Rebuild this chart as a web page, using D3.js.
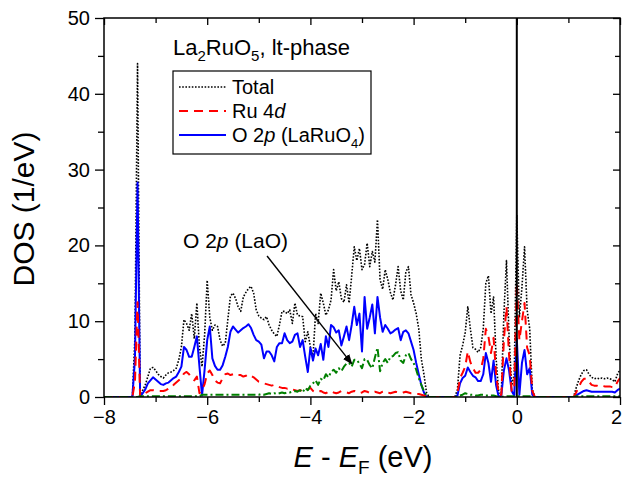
<!DOCTYPE html>
<html>
<head>
<meta charset="utf-8">
<script src="https://cdnjs.cloudflare.com/ajax/libs/d3/7.8.5/d3.min.js"></script>
<style>
    body { margin: 0; background: #fff; }
    svg { display: block; font-family: "Liberation Sans", Arial, sans-serif; }
</style>
</head>
<body>
<svg id="chart" width="624" height="477"></svg>
<script>
//Energy grid: -8 .. 2 eV, 0.05 eV step
var eStart = -8, eStep = 0.05;

//DOS values (1/eV), one per grid point
var total = [
    0, 0, 0, 0, 0, 0, 0, 0, 0, 0,
    0, 0, 8, 44, 0.3, 0.9, 1.6, 2.7, 3.8, 3.9,
    3.5, 3.0, 2.7, 2.5, 2.9, 3.2, 3.3, 3.5, 3.8, 4.9,
    6.6, 10.2, 9.7, 8.8, 11.0, 7.7, 12.4, 6.6, 4.0, 8.2,
    15.4, 10.5, 8.8, 9.5, 9.3, 7.5, 6.7, 7.1, 10.2, 13.3,
    13.7, 13.0, 11.9, 11.3, 13.2, 13.8, 14.3, 14.6, 13.7, 11.5,
    10.7, 10.4, 10.2, 10.6, 9.5, 8.8, 8.3, 8.0, 9.5, 11.3,
    11.3, 11.0, 11.5, 9.7, 12.4, 10.8, 10.7, 10.6, 7.3, 8.6,
    6.6, 5.3, 11.0, 9.7, 13.7, 12.4, 10.8, 11.5, 12.8, 16.8,
    14.0, 15.2, 13.0, 12.5, 14.8, 12.4, 16.0, 19.8, 18.0, 19.6,
    16.8, 17.5, 20.3, 17.2, 19.2, 17.8, 23.4, 15.5, 14.2, 16.8,
    15.5, 13.8, 12.8, 14.8, 17.2, 14.0, 12.8, 16.5, 17.2, 13.5,
    12.4, 11.0, 9.0, 5.0, 3.0, 0.6, 0, 0, 0, 0,
    0, 0, 0, 0, 0, 0, 0, 1.0, 5.5, 6.8,
    8.5, 11.9, 9.0, 6.5, 6.3, 5.9, 6.5, 9.0, 15.0, 16.0,
    11.0, 13.2, 5.0, 0.5, 0.5, 11.0, 18.0, 8.0, 1.5, 3.0,
    24.0, 10.5, 14.5, 19.8, 11.5, 9.0, 1.0, 0, 0, 0,
    0, 0, 0, 0, 0, 0, 0, 0, 0, 0,
    0, 0, 0, 1.2, 2.2, 3.0, 3.5, 3.6, 3.0, 2.6,
    2.4, 2.5, 2.4, 2.5, 2.4, 2.5, 2.4, 2.3, 2.0, 3.0,
    3.6
];
var ru4d = [
    0, 0, 0, 0, 0, 0, 0, 0, 0, 0,
    0, 0, 2, 12.5, 0, 0.3, 0.5, 0.7, 0.9, 0.9,
    0.8, 0.8, 0.8, 0.8, 0.9, 1.1, 1.2, 1.6, 1.9, 2.2,
    2.5, 3.1, 3.3, 3.0, 2.5, 2.2, 2.7, 0.5, 0.9, 1.7,
    3.1, 3.5, 2.9, 2.2, 1.9, 1.8, 2.5, 3.0, 3.1, 2.9,
    3.0, 3.1, 2.9, 2.9, 2.7, 2.8, 3.0, 2.8, 2.6, 2.3,
    2.0, 1.9, 1.8, 1.7, 1.6, 1.5, 1.6, 1.4, 1.3, 1.2,
    1.2, 1.1, 1.2, 1.0, 0.9, 0.8, 0.9, 0.8, 0.7, 1.0,
    1.2, 0.8, 0.6, 0.7, 0.8, 0.6, 0.5, 0.7, 0.8, 0.6,
    0.5, 0.6, 0.8, 0.7, 0.6, 0.5, 0.7, 0.8, 0.6, 0.5,
    0.6, 0.8, 0.7, 0.5, 0.6, 0.7, 0.6, 0.5, 0.7, 0.8,
    0.6, 0.5, 0.6, 0.7, 0.6, 0.5, 0.6, 0.7, 0.6, 0.5,
    0.5, 0.4, 0.4, 0.3, 0.2, 0.1, 0, 0, 0, 0,
    0, 0, 0, 0, 0, 0, 0, 0.5, 2.5, 3.2,
    4.0, 6.0, 4.6, 3.8, 3.2, 3.2, 3.6, 5.0, 9.0, 8.0,
    5.8, 7.8, 3.0, 0.3, 0.3, 7.5, 11.9, 5.5, 0.8, 1.0,
    15.0, 7.5, 10.0, 12.4, 6.5, 5.5, 0.8, 0, 0, 0,
    0, 0, 0, 0, 0, 0, 0, 0, 0, 0,
    0, 0, 0, 0.6, 1.3, 2.0, 2.4, 2.4, 2.0, 1.6,
    1.5, 1.5, 1.4, 1.5, 1.4, 1.4, 1.4, 1.3, 1.3, 2.0,
    2.5
];
var o2pLaRuO4 = [
    0, 0, 0, 0, 0, 0, 0, 0, 0, 0,
    0, 0, 5, 28.3, 0, 0.5, 1.0, 1.8, 2.2, 2.6,
    2.3, 2.0, 1.7, 1.6, 1.8, 1.9, 2.2, 2.5, 2.7, 3.3,
    4.0, 6.6, 6.2, 5.3, 5.3, 6.6, 8.0, 4.0, 0.2, 3.6,
    7.5, 9.3, 5.1, 4.1, 3.6, 3.6, 4.2, 5.3, 6.6, 8.6,
    9.3, 8.9, 8.5, 8.8, 9.1, 9.3, 9.6, 9.1, 8.2, 7.5,
    7.3, 6.9, 5.1, 6.0, 6.0, 5.5, 4.7, 6.6, 7.1, 7.1,
    8.4, 7.5, 7.1, 7.3, 8.2, 8.4, 6.6, 7.5, 5.3, 3.3,
    6.5, 4.8, 6.4, 5.5, 7.0, 4.9, 8.0, 6.6, 9.5, 9.2,
    8.5, 8.8, 6.8, 8.0, 9.3, 7.5, 9.5, 11.9, 9.5, 11.0,
    6.0, 13.2, 9.0, 10.5, 12.2, 8.4, 13.2, 10.5, 8.6, 9.5,
    9.0, 8.4, 8.6, 8.9, 9.1, 7.5, 8.6, 8.8, 8.4, 7.3,
    6.2, 4.5, 3.0, 1.6, 0.6, 0, 0, 0, 0, 0,
    0, 0, 0, 0, 0, 0, 0, 0.2, 1.8, 2.5,
    2.8, 3.9, 3.3, 2.8, 2.6, 2.1, 2.1, 3.0, 5.8, 4.5,
    2.0, 4.8, 1.5, 0, 0.2, 3.5, 5.1, 3.5, 0.8, 0.2,
    7.7, 0.3, 4.5, 6.2, 3.0, 3.8, 0.3, 0, 0, 0,
    0, 0, 0, 0, 0, 0, 0, 0, 0, 0,
    0, 0, 0, 0.2, 0.4, 0.6, 0.8, 0.9, 0.8, 0.7,
    0.7, 0.7, 0.7, 0.7, 0.7, 0.7, 0.7, 0.7, 0.6, 0.9,
    1.1
];
var o2pLaO = [
    0, 0, 0, 0, 0, 0, 0, 0, 0, 0,
    0, 0, 0, 0, 0.1, 0.1, 0.1, 0.1, 0.1, 0.1,
    0.1, 0.1, 0.1, 0.1, 0.1, 0.1, 0.1, 0.1, 0.1, 0.1,
    0.1, 0.1, 0.1, 0.1, 0.1, 0.1, 0.1, 0.1, 0.3, 0.3,
    0.3, 0.3, 0.3, 0.3, 0.3, 0.3, 0.3, 0.3, 0.3, 0.3,
    0.3, 0.3, 0.3, 0.3, 0.3, 0.3, 0.3, 0.3, 0.3, 0.3,
    0.3, 0.4, 0.3, 0.4, 0.5, 0.4, 0.5, 0.4, 0.5, 0.6,
    0.5, 0.6, 0.6, 0.7, 0.8, 0.7, 0.9, 0.6, 1.2, 0.9,
    1.5, 1.8, 2.2, 1.6, 2.4, 2.2, 3.0, 2.6, 3.3, 3.6,
    3.2, 3.8, 3.4, 4.0, 4.4, 4.5, 4.0, 4.9, 4.9, 4.4,
    3.8, 5.0, 4.9, 4.2, 3.8, 5.2, 6.5, 3.4, 4.5, 5.0,
    4.5, 5.3, 5.4, 5.8, 5.9, 4.8, 4.5, 5.5, 5.8, 5.0,
    4.5, 3.6, 2.5, 1.6, 0.8, 0.2, 0, 0, 0, 0,
    0, 0, 0, 0, 0, 0, 0, 0.1, 0.2, 0.3,
    0.5, 0.4, 0.3, 0.3, 0.2, 0.2, 0.3, 0.3, 0.2, 0.2,
    0.2, 0.2, 0.1, 0, 0, 0.1, 0.1, 0.1, 0.1, 0.1,
    0.1, 0.1, 0.1, 0.1, 0.1, 0.1, 0, 0, 0, 0,
    0, 0, 0, 0, 0, 0, 0, 0, 0, 0,
    0, 0, 0, 0.1, 0.1, 0.1, 0.1, 0.1, 0.1, 0.1,
    0.1, 0.1, 0.1, 0.1, 0.1, 0.1, 0.1, 0.1, 0.1, 0.1,
    0.1
];

//Axis ticks
var xMajor = [-8, -6, -4, -2, 0, 2];
var xMinor = [-7, -5, -3, -1, 1];
var yMajor = [0, 10, 20, 30, 40, 50];
var yMinor = [5, 15, 25, 35, 45];

//Legend entries
var legendNames = ["Total", "Ru 4", "O 2"];

var energy = total.map(function (d, i) { return +(eStart + i * eStep).toFixed(2) });

var svg = d3.select("#chart");

var x = d3.scaleLinear().domain([-8, 2]).range([104, 620]);
var y = d3.scaleLinear().domain([0, 50]).range([397, 18]);

svg.append("defs").append("clipPath").attr("id", "plot-clip")
    .append("rect").attr("x", 104).attr("y", 18).attr("width", 516).attr("height", 379);

//Curves
var series = [
    { values: total, color: "#000", width: 1.6, dash: "1.6,1.6" },
    { values: o2pLaRuO4, color: "#0000ff", width: 2, dash: null },
    { values: ru4d, color: "#ff0000", width: 2, dash: "9,6" },
    { values: o2pLaO, color: "#008000", width: 2, dash: "8,3,2,3" }
];
var line = d3.line()
    .x(function (d) { return x(d[0]) })
    .y(function (d) { return y(d[1]) });

var curves = svg.append("g").attr("clip-path", "url(#plot-clip)");
series.forEach(function (s) {
    curves.append("path")
        .datum(energy.map(function (e, i) { return [e, s.values[i]] }))
        .attr("d", line)
        .attr("fill", "none")
        .attr("stroke", s.color)
        .attr("stroke-width", s.width)
        .attr("stroke-dasharray", s.dash)
        .attr("stroke-linejoin", "round");
});

//Fermi level
svg.append("line")
    .attr("x1", x(0)).attr("x2", x(0))
    .attr("y1", y(50)).attr("y2", y(0))
    .attr("stroke", "#000").attr("stroke-width", 2);

//Axes
function styleAxis(g) {
    g.select(".domain").remove();
    g.selectAll("line").attr("stroke", "#000").attr("stroke-width", 1.3);
    g.selectAll("text").attr("fill", "#000").style("font-size", "20px")
        .style("font-family", "'Liberation Sans', Arial, sans-serif");
}
var xAxis = svg.append("g").attr("transform", "translate(0,397)")
    .call(d3.axisBottom(x).tickValues(xMajor).tickSize(8).tickPadding(5).tickFormat(d3.format("d")))
    .call(styleAxis);
//last label sits at the window edge
xAxis.selectAll("text").filter(function (d) { return d == 2 }).attr("x", -4);
svg.append("g").attr("transform", "translate(0,397)")
    .call(d3.axisBottom(x).tickValues(xMinor).tickSize(5).tickFormat(""))
    .call(styleAxis);
svg.append("g").attr("transform", "translate(104,0)")
    .call(d3.axisLeft(y).tickValues(yMajor).tickSize(9).tickPadding(5).tickFormat(d3.format("d")))
    .call(styleAxis);
svg.append("g").attr("transform", "translate(104,0)")
    .call(d3.axisLeft(y).tickValues(yMinor).tickSize(6).tickFormat(""))
    .call(styleAxis);
svg.append("g").attr("transform", "translate(0,18)")
    .call(d3.axisTop(x).tickValues(xMajor).tickSize(-7).tickFormat(""))
    .call(styleAxis);
svg.append("g").attr("transform", "translate(0,18)")
    .call(d3.axisTop(x).tickValues(xMinor).tickSize(-5).tickFormat(""))
    .call(styleAxis);
svg.append("g").attr("transform", "translate(620,0)")
    .call(d3.axisRight(y).tickValues(yMajor).tickSize(-7).tickFormat(""))
    .call(styleAxis);
svg.append("g").attr("transform", "translate(620,0)")
    .call(d3.axisRight(y).tickValues(yMinor).tickSize(-5).tickFormat(""))
    .call(styleAxis);

svg.append("rect")
    .attr("x", 104).attr("y", 18).attr("width", 516).attr("height", 379)
    .attr("fill", "none").attr("stroke", "#000").attr("stroke-width", 1.5);

//Axis titles
var xt = svg.append("text").attr("x", 363).attr("y", 467)
    .attr("text-anchor", "middle").style("font-size", "29px");
xt.append("tspan").style("font-style", "italic").text("E");
xt.append("tspan").text(" - ");
xt.append("tspan").style("font-style", "italic").text("E");
xt.append("tspan").attr("dy", 7).style("font-size", "19px").text("F");
xt.append("tspan").attr("dy", -7).text(" (eV)");

svg.append("text")
    .attr("transform", "translate(34,209) rotate(-90)")
    .attr("text-anchor", "middle").style("font-size", "30px")
    .text("DOS (1/eV)");

//Title
var tt = svg.append("text").attr("x", 173).attr("y", 55).style("font-size", "22px");
tt.append("tspan").text("La");
tt.append("tspan").attr("dy", 6).style("font-size", "15px").text("2");
tt.append("tspan").attr("dy", -6).text("RuO");
tt.append("tspan").attr("dy", 6).style("font-size", "15px").text("5");
tt.append("tspan").attr("dy", -6).text(", lt-phase");

//Legend
var lg = svg.append("g");
lg.append("rect").attr("x", 173).attr("y", 71).attr("width", 198).attr("height", 83)
    .attr("fill", "#fff").attr("stroke", "#000").attr("stroke-width", 1.2);
var rowY = [87, 111, 135];
var legendOrder = [0, 2, 1];
legendOrder.forEach(function (order, i) {
    var ss = series[order];
    lg.append("line")
        .attr("x1", 179).attr("x2", 226).attr("y1", rowY[i]).attr("y2", rowY[i])
        .attr("stroke", ss.color).attr("stroke-width", ss.width).attr("stroke-dasharray", ss.dash);
    var t = lg.append("text").attr("x", 232).attr("y", rowY[i] + 7).style("font-size", "20px");
    t.append("tspan").text(legendNames[i]);
    if (i == 1) t.append("tspan").style("font-style", "italic").text("d");
    if (i == 2) {
        t.append("tspan").style("font-style", "italic").text("p");
        t.append("tspan").text(" (LaRuO");
        t.append("tspan").attr("dy", 6).style("font-size", "13px").text("4");
        t.append("tspan").attr("dy", -6).text(")");
    }
});

//Annotation for O 2p (LaO)
svg.append("defs").append("marker").attr("id", "arrow")
    .attr("viewBox", "0 0 10 10").attr("refX", 9).attr("refY", 5)
    .attr("markerWidth", 10).attr("markerHeight", 10).attr("markerUnits", "userSpaceOnUse")
    .attr("orient", "auto")
    .append("path").attr("d", "M0,1 L10,5 L0,9 Z").attr("fill", "#000");
var an = svg.append("text").attr("x", 183).attr("y", 248).style("font-size", "21px");
an.append("tspan").text("O 2");
an.append("tspan").style("font-style", "italic").text("p");
an.append("tspan").text(" (LaO)");
svg.append("line")
    .attr("x1", x(-4.84)).attr("y1", y(18.6))
    .attr("x2", x(-3.2)).attr("y2", y(4.4))
    .attr("stroke", "#000").attr("stroke-width", 1.4)
    .attr("marker-end", "url(#arrow)");
</script>
</body>
</html>
